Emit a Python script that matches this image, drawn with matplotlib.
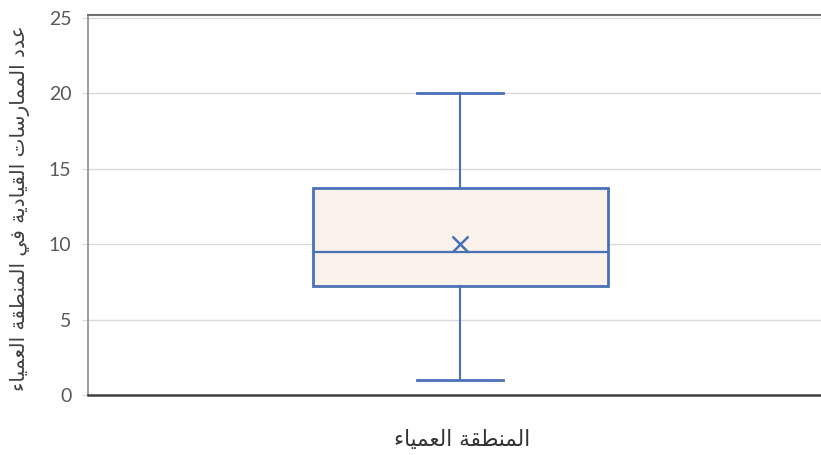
import matplotlib.pyplot as plt

# Box summary for the single group
group_label = "المنطقة العمياء"
y_label = "عدد الممارسات القيادية في المنطقة العمياء"
q1 = 7.25
median = 9.5
q3 = 13.75
low_whisker = 1
high_whisker = 20
mean = 10
y_ticks = [0, 5, 10, 15, 20, 25]

# presentation forms: isolated, final, initial, medial
FORMS = {
    'ء': ('\uFE80', None, None, None),
    'ا': ('\uFE8D', '\uFE8E', None, None),
    'ة': ('\uFE93', '\uFE94', None, None),
    'ت': ('\uFE95', '\uFE96', '\uFE97', '\uFE98'),
    'د': ('\uFEA9', '\uFEAA', None, None),
    'ر': ('\uFEAD', '\uFEAE', None, None),
    'س': ('\uFEB1', '\uFEB2', '\uFEB3', '\uFEB4'),
    'ط': ('\uFEC1', '\uFEC2', '\uFEC3', '\uFEC4'),
    'ع': ('\uFEC9', '\uFECA', '\uFECB', '\uFECC'),
    'ف': ('\uFED1', '\uFED2', '\uFED3', '\uFED4'),
    'ق': ('\uFED5', '\uFED6', '\uFED7', '\uFED8'),
    'ل': ('\uFEDD', '\uFEDE', '\uFEDF', '\uFEE0'),
    'م': ('\uFEE1', '\uFEE2', '\uFEE3', '\uFEE4'),
    'ن': ('\uFEE5', '\uFEE6', '\uFEE7', '\uFEE8'),
    'ي': ('\uFEF1', '\uFEF2', '\uFEF3', '\uFEF4'),
}


def joins_next(ch):
    return ch in FORMS and FORMS[ch][2] is not None


def joins_prev(ch):
    return ch in FORMS and FORMS[ch][1] is not None


def shape(text):
    out = []
    for i, ch in enumerate(text):
        if ch not in FORMS:
            out.append(ch)
            continue
        prev = text[i - 1] if i > 0 else ''
        nxt = text[i + 1] if i + 1 < len(text) else ''
        p = joins_next(prev) and joins_prev(ch)
        n = joins_next(ch) and joins_prev(nxt)
        iso, fin, ini, med = FORMS[ch]
        if p and n:
            out.append(med)
        elif p:
            out.append(fin)
        elif n:
            out.append(ini)
        else:
            out.append(iso)
    return ''.join(out)[::-1]


fig = plt.figure(figsize=(8.21, 4.55), dpi=100)
ax = fig.add_axes([88 / 821, 1 - 395 / 455, 1 - 88 / 821, (395 - 15) / 455])

stats = [{
    'med': median, 'q1': q1, 'q3': q3,
    'whislo': low_whisker, 'whishi': high_whisker,
    'mean': mean, 'fliers': [],
}]
blue = '#4a70b5'
ax.bxp(stats, positions=[1], widths=1.0, capwidths=0.29,
       showmeans=True, patch_artist=True, zorder=3,
       boxprops=dict(facecolor='#fbf1eb', edgecolor=blue, linewidth=2),
       medianprops=dict(color=blue, linewidth=1.6),
       whiskerprops=dict(color=blue, linewidth=1.5),
       capprops=dict(color=blue, linewidth=2),
       meanprops=dict(marker='x', markeredgecolor=blue, markersize=11,
                      markeredgewidth=1.8))

ax.set_xlim(1 - 372 / 295, 1 + 361 / 295)
ax.set_ylim(0, 25.2)
ax.set_yticks(y_ticks)
ax.set_xticks([])
ax.yaxis.grid(True, color='#d9d9d9', linewidth=1, zorder=0)
ax.set_axisbelow(True)

for lab in ax.get_yticklabels():
    lab.set_fontfamily('Lato')
ax.tick_params(axis='y', labelsize=14, labelcolor='#595959', length=4,
               color='#d9d9d9', pad=8)

ax.spines['right'].set_visible(False)
ax.spines['left'].set_color('#8c8c8c')
ax.spines['left'].set_linewidth(1.2)
ax.spines['bottom'].set_color('#404040')
ax.spines['bottom'].set_linewidth(1.8)
ax.spines['top'].set_color('#707070')
ax.spines['top'].set_linewidth(1.5)

fig.text(462 / 821, 1 - 440 / 455, shape(group_label), ha='center',
         va='center', fontsize=15.5, color='#333333', family='DejaVu Sans')
fig.text(20 / 821, 1 - 208 / 455, shape(y_label), ha='center', va='center',
         rotation=90, fontsize=14.5, color='#404040', family='DejaVu Sans')

fig.savefig('out.png', dpi=100)
